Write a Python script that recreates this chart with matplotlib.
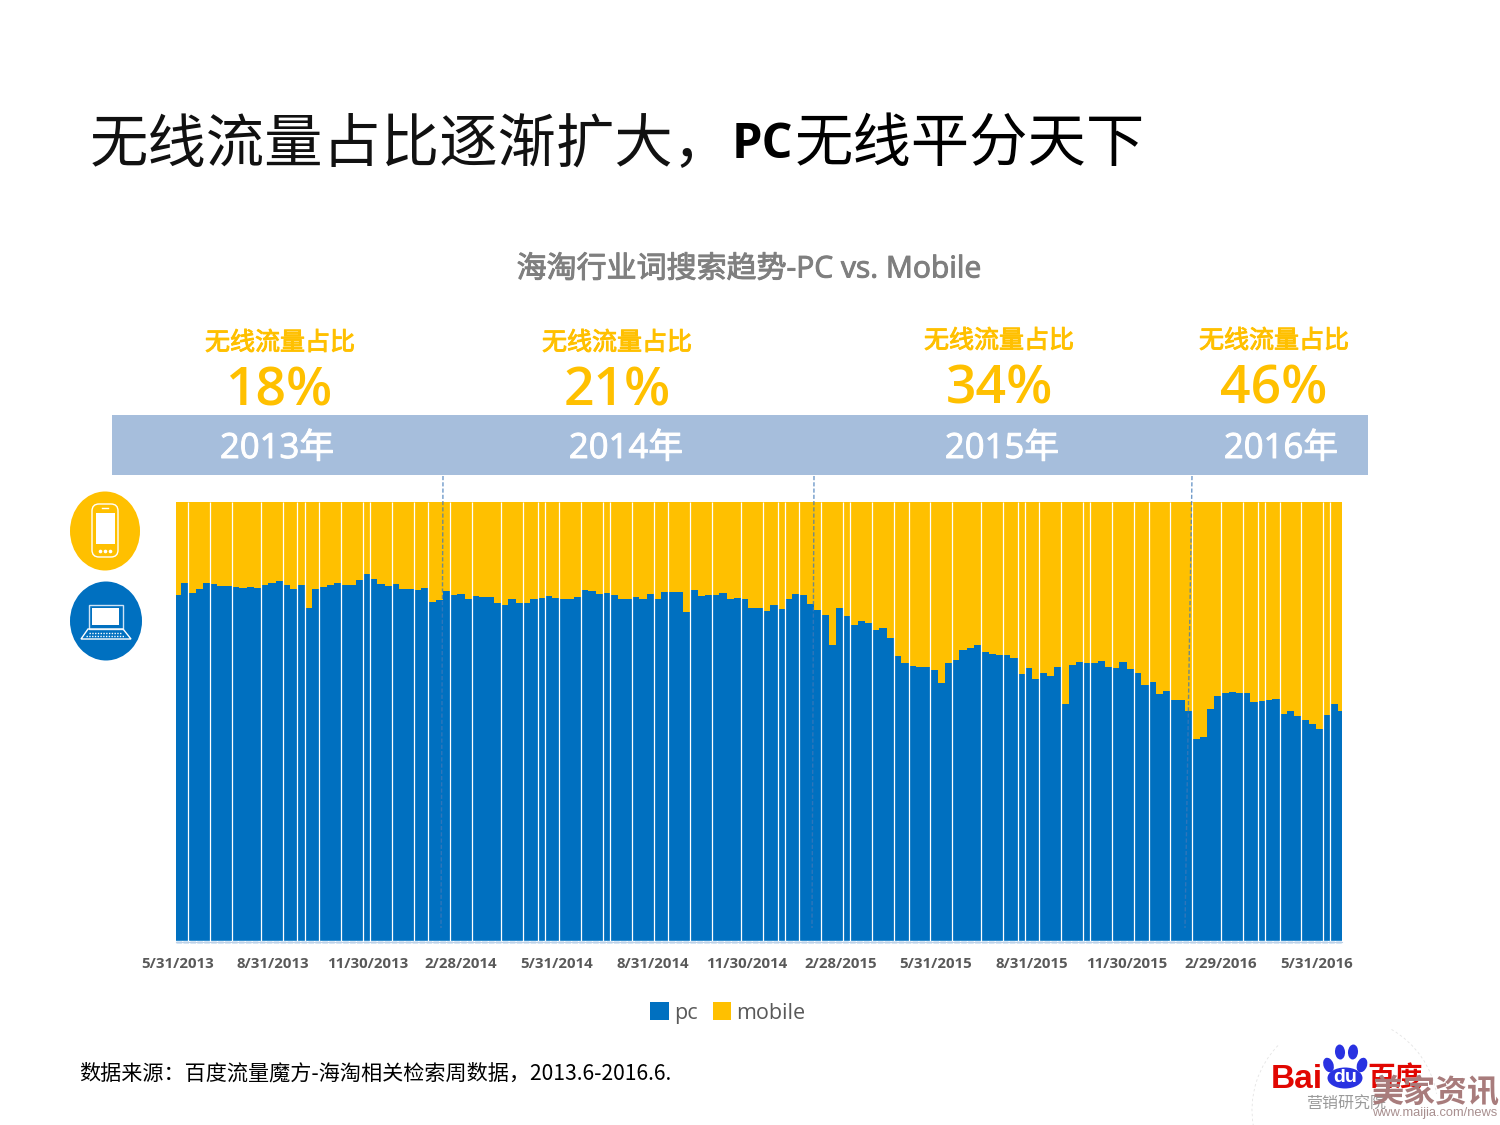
import matplotlib
matplotlib.use("Agg")
import matplotlib.pyplot as plt
import matplotlib.patheffects as pe
import pandas as pd
from matplotlib.patches import Arc, Ellipse, FancyBboxPatch, Polygon, Rectangle

plt.rcParams["font.family"] = ["Open Sans", "Noto Sans CJK SC", "DejaVu Sans"]

BLUE = "#0070C0"
ORANGE = "#FFC000"
GREY = "#7F7F7F"
BAND = "#A6BEDC"

# weekly pc share (%)
pc_2013 = [78.9, 81.5, 79.4, 80.3, 81.5, 81.4, 80.9, 80.8, 80.7, 80.5, 80.7, 80.5, 81.1, 81.7, 82.0,
           81.1, 80.2, 81.1, 76.0, 80.3, 80.6, 81.2, 81.6, 81.1, 81.2, 82.2, 83.7, 82.4, 81.4, 80.8,
           81.4, 80.3, 80.3, 80.1, 80.4, 77.3, 77.7, 79.8, 78.9, 79.2, 77.9, 78.6, 78.5, 78.5, 77.0,
           76.7, 78.0, 77.0, 77.0, 77.9, 78.1]
pc_2014 = [78.6, 78.1, 77.9, 77.9, 78.5, 79.9, 79.7, 79.2, 79.3, 78.9, 78.0, 77.9, 78.3, 77.9, 79.0,
           77.9, 79.5, 79.6, 79.6, 74.9, 79.9, 78.6, 78.9, 78.9, 79.4, 77.9, 78.1, 78.0, 76.0, 76.0,
           75.3, 76.5, 75.6, 78.0, 79.2, 78.8, 76.9, 75.4, 74.4, 67.6, 75.8, 74.2, 72.1, 73.0, 72.6,
           71.0, 71.4, 69.2, 64.9, 63.5, 62.8, 62.4, 62.4, 61.9, 58.9, 63.3, 64.0]
pc_2015 = [66.3, 66.9, 67.4, 65.8, 65.4, 65.3, 65.2, 64.6, 60.8, 62.2, 59.8, 61.2, 60.5, 62.4, 54.2,
           63.0, 63.6, 63.5, 63.4, 63.9, 62.4, 62.3, 63.7, 62.0, 61.2, 58.5, 59.1, 56.4, 57.1, 55.0,
           55.0, 52.6, 46.1, 46.7, 53.0, 56.0, 56.5, 56.9, 56.7, 56.7, 54.6, 54.8, 55.0, 55.3, 51.9,
           52.4, 51.4, 50.5, 49.5, 48.4, 51.6, 54.2, 52.6]
pc = pc_2013 + pc_2014 + pc_2015
mobile = [round(100 - v, 1) for v in pc]
weeks = pd.date_range("2013-05-31", periods=len(pc), freq="7D")

# thin white seams in the original, given as the bar index they come before
seams = [2, 5, 8, 12, 15, 17, 18, 20, 23, 26, 27, 30, 33, 35, 38, 41, 45, 48, 50, 51, 53, 56, 59, 60,
         63, 66, 68, 71, 74, 78, 81, 83, 84, 86, 89, 92, 93, 96, 99, 101, 104, 107, 111, 114, 116, 117,
         119, 122, 125, 126, 129, 132, 134, 137, 140, 144, 147, 149, 150, 152, 155, 158, 159]

tick_labels = ["5/31/2013", "8/31/2013", "11/30/2013", "2/28/2014", "5/31/2014", "8/31/2014", "11/30/2014",
               "2/28/2015", "5/31/2015", "8/31/2015", "11/30/2015", "2/29/2016", "5/31/2016"]
tick_dates = pd.to_datetime(tick_labels, format="%m/%d/%Y")

band_years = ["2013年", "2014年", "2015年", "2016年"]
share_labels = ["18%", "21%", "34%", "46%"]

fig = plt.figure(figsize=(15, 11.25), dpi=100)
ax = fig.add_axes([176 / 1500, 1 - 942 / 1125, (1342 - 176) / 1500, 440 / 1125])

day = pd.Timedelta(days=1)
bar_pc = ax.bar(weeks, pc, width=7, color=BLUE, linewidth=0, antialiased=False, label="pc")
bar_mobile = ax.bar(weeks, mobile, bottom=pc, width=7, color=ORANGE, linewidth=0, antialiased=False, label="mobile")
ax.vlines([weeks[i] - 3.5 * day for i in seams], 0, 100, color="white", linewidth=0.9)
ax.set_xlim(weeks[0] - 1.35 * day, weeks[-1] + 0.6 * day)
ax.set_ylim(0, 100)
ax.set_yticks([])
ax.set_xticks(tick_dates)
ax.set_xticklabels(tick_labels, fontsize=10.8, fontweight="bold", color="#595959")
ax.tick_params(axis="x", length=0, pad=11)
for side in ["top", "left", "right"]:
    ax.spines[side].set_visible(False)
ax.spines["bottom"].set_color("#BDD0E6")
ax.axhline(0.3, color="white", linewidth=1)
ax.axhline(0, color="#2E86D0", linewidth=1, linestyle=(0, (4, 1)), clip_on=False)

leg = fig.legend(handles=[bar_pc, bar_mobile], loc="center", bbox_to_anchor=(728 / 1500, 1 - 1013 / 1125),
                 ncol=2, frameon=False, fontsize=15.5, labelcolor="#595959", handlelength=0.85,
                 handleheight=0.85, handletextpad=0.25, columnspacing=0.7)

# overlay in pixel coordinates for the slide furniture
ov = fig.add_axes([0, 0, 1, 1], zorder=5)
ov.set_xlim(0, 1500)
ov.set_ylim(1125, 0)
ov.axis("off")

cjk = ["Noto Sans CJK SC", "DejaVu Sans"]


def fake_bold(color, width=0.7):
    # the slide used synthetic bold, a thin stroke comes closest
    return [pe.withStroke(linewidth=width, foreground=color)]


ov.text(90, 145, "无线流量占比逐渐扩大，", family=cjk, fontsize=42, fontweight="light", color="#111111", va="center")
ov.text(732, 146, "PC", fontsize=35, fontweight="bold", color="black", va="center")
ov.text(795, 145, "无线平分天下", family=cjk, fontsize=42, fontweight="medium", color="black", va="center")
ov.text(749, 270, "海淘行业词搜索趋势-PC vs. Mobile", fontsize=21.6, color=GREY, ha="center", va="center",
        path_effects=fake_bold(GREY))

for cx, cy, lab in zip([280, 617, 999, 1274], [343, 343, 341, 341], share_labels):
    ov.text(cx, cy, "无线流量占比", family=cjk, fontsize=18, color=ORANGE, ha="center", va="center",
            path_effects=fake_bold(ORANGE))
    ov.text(cx, cy + 49, lab, fontsize=38.5, fontweight="semibold", color=ORANGE, ha="center", va="center")

ov.add_patch(Rectangle((112, 415), 1256, 60, color=BAND, linewidth=0))
for cx, lab in zip([277, 626, 1002, 1281], band_years):
    ov.text(cx, 449, lab, fontsize=25, color="white", ha="center", va="center", path_effects=fake_bold("white"))

for top, bottom in [(443, 441), (814, 812), (1192, 1185)]:
    ov.plot([top, bottom], [476, 928], color="#3F78B8", linewidth=1, linestyle=(0, (3, 1.5)), alpha=0.75)

# device icons
ov.add_patch(Ellipse((105, 531), 70, 79, color=ORANGE, linewidth=0))
ov.add_patch(FancyBboxPatch((96, 508), 18, 45, boxstyle="round,pad=4,rounding_size=7", fill=False, edgecolor="white", linewidth=1))
ov.add_patch(Rectangle((96, 513), 18.5, 31, color="white", linewidth=0))
ov.plot([102, 108], [508, 508], color="white", linewidth=1)
ov.plot([100, 105, 110], [550.5, 550.5, 550.5], "o", color="white", markersize=1.6)
ov.add_patch(Ellipse((106, 621), 72, 79, color=BLUE, linewidth=0))
ov.add_patch(Rectangle((88.5, 604.5), 34.5, 24, fill=False, edgecolor="#CFE3F5", linewidth=1))
ov.add_patch(Rectangle((92, 608), 27, 17, color="white", linewidth=0))
ov.add_patch(Polygon([(88, 629), (123, 629), (131, 639), (81, 639)], closed=True, fill=False, edgecolor="white", linewidth=1))
ov.plot([89, 122], [633, 633], color="white", linewidth=1, linestyle=(0, (1, 1)))
ov.plot([86, 125], [636, 636], color="white", linewidth=1, linestyle=(0, (1, 1)))

ov.text(79, 1074, "数据来源：百度流量魔方-海淘相关检索周数据，2013.6-2016.6.", family=["Noto Sans CJK SC", "DejaVu Sans"],
        fontsize=15.2, color="black", va="center")

# logo + watermark
ov.add_patch(Arc((1345, 1110), 186, 186, theta1=170, theta2=225, color="#E4E4E4", linewidth=0.6, linestyle=(0, (3, 3))))
ov.add_patch(Arc((1345, 1110), 186, 186, theta1=300, theta2=350, color="#E4E4E4", linewidth=0.6, linestyle=(0, (3, 3))))
ov.text(1271, 1079, "Bai", family=["Liberation Sans"], fontsize=24, fontweight="bold", color="#E10601", va="center")
ov.text(1395, 1079, "百度", family=cjk, fontsize=20, fontweight="bold", color="#E10601", ha="center", va="center")
for cx, cy, angle in [(1328.5, 1065, -20), (1340, 1052, -5), (1353, 1052, 5), (1362, 1065, 20)]:
    ov.add_patch(Ellipse((cx, cy), 10, 15, angle=angle, color="#2932E1", linewidth=0))
ov.add_patch(Ellipse((1345, 1078), 35, 21, color="#2932E1", linewidth=0))
ov.text(1345, 1078, "du", family=["Liberation Sans"], fontsize=14, fontweight="bold", color="white", ha="center", va="center")
ov.text(1346, 1104, "营销研究院", family=cjk, fontsize=11.5, color="#9A9A9A", ha="center", va="center")
ov.text(1435, 1093, "美家资讯", family=cjk, fontsize=23, fontweight="bold", color="#A87C7C", ha="center", va="center")
ov.text(1435, 1113, "www.maijia.com/news", family=["Liberation Sans"], fontsize=9.3, color="#A88F8F", ha="center", va="center")

fig.savefig("out.png", dpi=100)
